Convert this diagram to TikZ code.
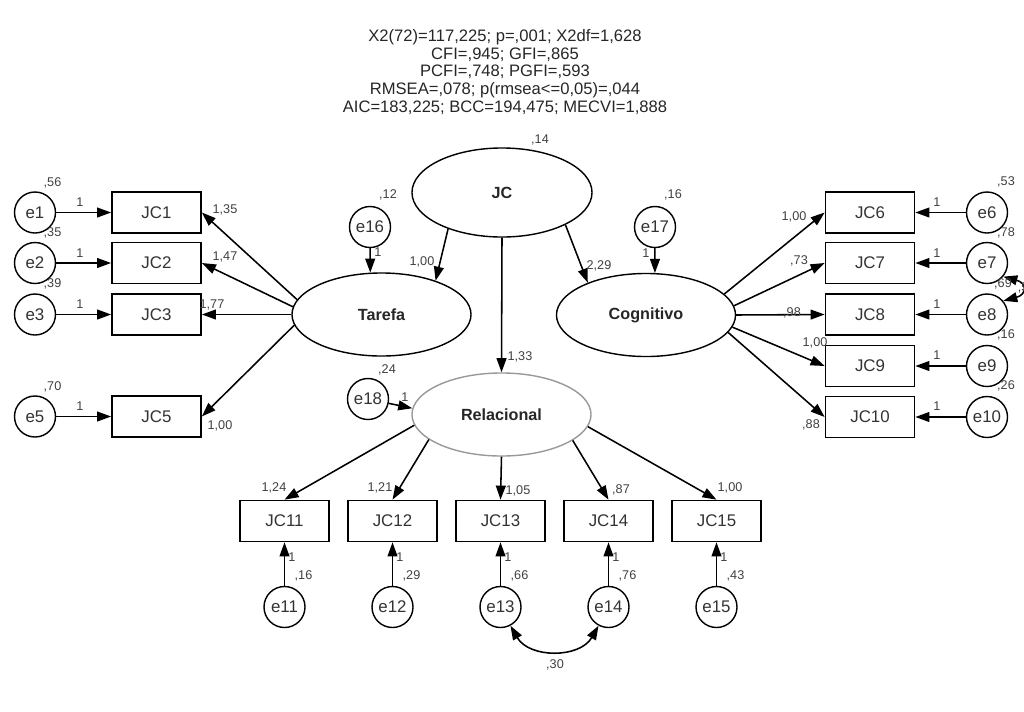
\documentclass[tikz,border=0pt]{standalone}
\usepackage{fontspec}
\setmainfont{Liberation Sans}
\usetikzlibrary{shapes.geometric,arrows.meta}

\tikzset{
  obs/.style={rectangle,draw,line width=1.2pt,minimum width=2.225cm,minimum height=1.025cm,inner sep=0pt,
    font=\fontsize{12}{14}\selectfont,text=black!80},
  err/.style={circle,draw,line width=1pt,minimum size=1.025cm,inner sep=0pt,
    font=\fontsize{12}{14}\selectfont,text=black!80},
  lat/.style={ellipse,draw,line width=1pt,minimum width=4.475cm,minimum height=2.075cm,inner sep=0pt,
    font=\bfseries\fontsize{11.5}{13}\selectfont,text=black!85},
  val/.style={inner sep=0pt,font=\fontsize{9}{10}\selectfont,text=black!75},
}

\begin{document}
\begin{tikzpicture}[x=0.025cm,y=-0.025cm,line width=1.1pt,>={Triangle[length=10pt,width=7pt]}]
\useasboundingbox (0,0) rectangle (1024,711);
\clip (0,0) rectangle (1024,711);

% fit indices
\node[align=center,font=\fontsize{11.8}{12.6}\selectfont,text=black!85] (fit) at (505,72)
  {X2(72)=117,225; p=,001; X2df=1,628\\ CFI=,945; GFI=,865\\ PCFI=,748; PGFI=,593\\
   RMSEA=,078; p(rmsea<=0,05)=,044\\ AIC=183,225; BCC=194,475; MECVI=1,888};

% latent variables
\node[lat,minimum width=4.5cm,minimum height=2.225cm] (jc) at (502,192.5) {JC};
\node[lat] (tar) at (381.5,314.5) {Tarefa};
\node[lat] (cog) at (646,315) {Cognitivo};
\node[lat,draw=black!40] (rel) at (501.5,414.5) {Relacional};

\node[err] (e16) at (370,227) {e16};
\node[err] (e17) at (655,227) {e17};
\node[err] (e18) at (368,399) {e18};

% Tarefa indicators
\node[obs] (jc1) at (156.5,212.5) {JC1};
\node[obs] (jc2) at (156.5,263) {JC2};
\node[obs] (jc3) at (156.5,314.5) {JC3};
\node[obs] (jc5) at (156.5,416.5) {JC5};
\node[err] (e1) at (35,212.5) {e1};
\node[err] (e2) at (35,263) {e2};
\node[err] (e3) at (35,314.5) {e3};
\node[err] (e5) at (35,416.5) {e5};

% Cognitivo indicators
\node[obs] (jc6) at (870,212.5) {JC6};
\node[obs] (jc7) at (870,263) {JC7};
\node[obs] (jc8) at (870,314.5) {JC8};
\node[obs] (jc9) at (870,366) {JC9};
\node[obs] (jc10) at (870,417) {JC10};
\node[err] (e6) at (987,212.5) {e6};
\node[err] (e7) at (987,263) {e7};
\node[err] (e8) at (987,314.5) {e8};
\node[err] (e9) at (987,366) {e9};
\node[err] (e10) at (987,417) {e10};

% Relacional indicators
\node[obs] (jc11) at (284.5,521) {JC11};
\node[obs] (jc12) at (392.5,521) {JC12};
\node[obs] (jc13) at (500.5,521) {JC13};
\node[obs] (jc14) at (608.5,521) {JC14};
\node[obs] (jc15) at (716.5,521) {JC15};
\node[err] (e11) at (284.5,607) {e11};
\node[err] (e12) at (392.5,607) {e12};
\node[err] (e13) at (500.5,607) {e13};
\node[err] (e14) at (608.5,607) {e14};
\node[err] (e15) at (716.5,607) {e15};

% structural paths
\draw[->] (jc.214.6) -- (tar.32.8);
\draw[->] (jc.333.4) -- (cog.151);
\draw[->] (jc.south) -- (rel.north);
\draw[->] (e16) -- (tar.105);
\draw[->] (e17) -- (cog.78);
\draw[->] (e18) -- (rel.176);

% loadings
\draw[->] (tar.170) -- (jc1.east);
\draw[->] (tar.175) -- (jc2.east);
\draw[->] (tar.west) -- (jc3.east);
\draw[->] (tar.187.5) -- (jc5.east);

\draw[->] (cog.15.5) -- (jc6.west);
\draw[->] (cog.6.5) -- (jc7.west);
\draw[->] (cog.east) -- (jc8.west);
\draw[->] (cog.-8) -- (jc9.west);
\draw[->] (cog.-12) -- (jc10.west);

\draw[->] (rel.187.4) -- (jc11.north);
\draw[->] (rel.199.4) -- (jc12.north);
\draw[->] (rel.south) -- (jc13.north);
\draw[->] (rel.340.1) -- (jc14.north);
\draw[->] (rel.352.4) -- (jc15.north);

% errors
\draw[->] (e1) -- (jc1);
\draw[->] (e2) -- (jc2);
\draw[->] (e3) -- (jc3);
\draw[->] (e5) -- (jc5);
\draw[->] (e6) -- (jc6);
\draw[->] (e7) -- (jc7);
\draw[->] (e8) -- (jc8);
\draw[->] (e9) -- (jc9);
\draw[->] (e10) -- (jc10);
\draw[->] (e11) -- (jc11);
\draw[->] (e12) -- (jc12);
\draw[->] (e13) -- (jc13);
\draw[->] (e14) -- (jc14);
\draw[->] (e15) -- (jc15);

% covariances
\draw[<->] (e7.-40) to[out=-15,in=15,looseness=2.6] (e8.40);
\draw[<->] (e13.-62) to[out=-60,in=-120,looseness=1.1] (e14.-118);

% estimates
\node[val] (vjc) at (540,140) {,14};
\node[val] (v16) at (388,195) {,12};
\node[val] (v17) at (673,195) {,16};
\node[val] (v18) at (387,370) {,24};
\node[val] (wtar) at (422,262) {1,00};
\node[val] (wcog) at (599,266) {2,29};
\node[val] (wrel) at (520,357) {1,33};
\node[val] (f16) at (378,252) {1};
\node[val] (f17) at (646,253) {1};
\node[val] (f18) at (405,397) {1};

\node[val] (v1) at (52.5,183) {,56};
\node[val] (v2) at (52.5,233) {,35};
\node[val] (v3) at (52.5,284) {,39};
\node[val] (v5) at (52.5,387) {,70};
\node[val] (f1) at (80,202) {1};
\node[val] (f2) at (80,253) {1};
\node[val] (f3) at (80,304) {1};
\node[val] (f5) at (80,406) {1};
\node[val] (w1) at (225,210) {1,35};
\node[val] (w2) at (225,257) {1,47};
\node[val] (w3) at (212,305) {1,77};
\node[val] (w5) at (220,426) {1,00};

\node[val] (v6) at (1006,182) {,53};
\node[val] (v7) at (1006,233) {,78};
\node[val] (v8) at (1003,284) {,69};
\node[val] (v9) at (1006,335) {,16};
\node[val] (v10) at (1006,386) {,26};
\node[val,anchor=west] (c78) at (1017,288) {,5};
\node[val] (f6) at (937,202) {1};
\node[val] (f7) at (937,253) {1};
\node[val] (f8) at (937,304) {1};
\node[val] (f9) at (937,355) {1};
\node[val] (f10) at (937,406) {1};
\node[val] (w6) at (794,217) {1,00};
\node[val] (w7) at (799,261) {,73};
\node[val] (w8) at (792,313) {,98};
\node[val] (w9) at (815,343) {1,00};
\node[val] (w10) at (811,425) {,88};

\node[val] (w11) at (274,488) {1,24};
\node[val] (w12) at (380,488) {1,21};
\node[val] (w13) at (518,491) {1,05};
\node[val] (w14) at (621,490) {,87};
\node[val] (w15) at (730,488) {1,00};
\node[val] (f11) at (292,557) {1};
\node[val] (f12) at (400,557) {1};
\node[val] (f13) at (508,557) {1};
\node[val] (f14) at (616,557) {1};
\node[val] (f15) at (724,557) {1};
\node[val] (v11) at (303.5,576) {,16};
\node[val] (v12) at (411.5,576) {,29};
\node[val] (v13) at (519.5,576) {,66};
\node[val] (v14) at (627.5,576) {,76};
\node[val] (v15) at (735.5,576) {,43};
\node[val] (c1314) at (555,665) {,30};

\end{tikzpicture}
\end{document}
